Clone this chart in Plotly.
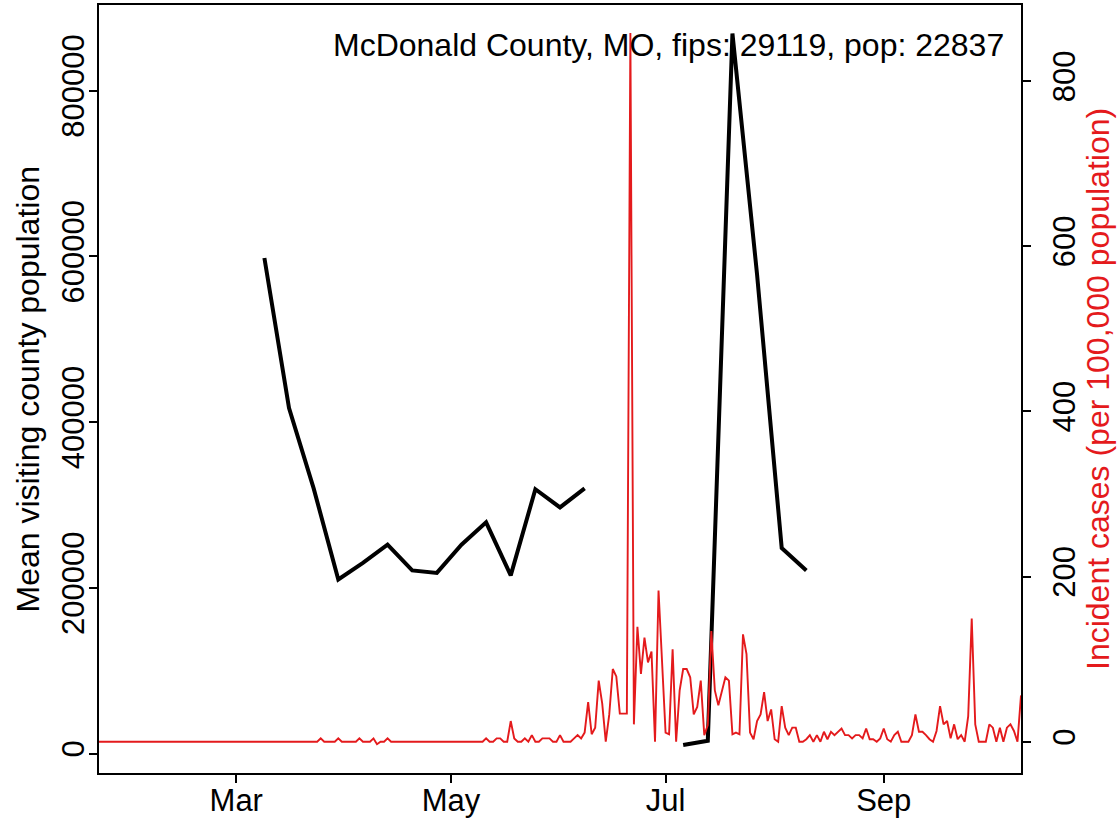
import plotly.graph_objects as go
import pandas as pd

# ---------------- data ----------------
# Daily incident cases per 100,000 (red, right axis), 2020-01-22 .. 2020-10-10
case_start = "2020-01-22"
cases_jan = [0, 0, 0, 0, 0, 0, 0, 0, 0, 0]
cases_feb = [0, 0, 0, 0, 0, 0, 0, 0, 0, 0, 0, 0, 0, 0, 0, 0, 0, 0, 0, 0,
             0, 0, 0, 0, 0, 0, 0, 0, 0]
cases_mar = [0, 0, 0, 0, 0, 0, 0, 0, 0, 0, 0, 0, 0, 0, 0, 0, 0, 0, 0, 0,
             0, 0, 0, 0, 4, 0, 0, 0, 0, 4, 0]
cases_apr = [0, 0, 0, 0, 4, 0, 0, 0, 4, -3, 0, 0, 4, 0, 0, 0, 0, 0, 0, 0,
             0, 0, 0, 0, 0, 0, 0, 0, 0, 0]
cases_may = [0, 0, 0, 0, 0, 0, 0, 0, 0, 0, 4, 0, 0, 4, 4, 0, 0, 25, 4, 0,
             0, 4, 0, 8, 0, 0, 4, 4, 4, 0, 0]
cases_jun = [8, 0, 0, 0, 4, 8, 4, 11, 48, 9, 17, 74, 46, 0, 33, 88, 79, 34, 34, 34,
             858, 21, 139, 82, 126, 96, 109, 0, 183, 97]
cases_jul = [11, 9, 112, 0, 62, 88, 88, 78, 33, 42, 74, 8, 20, 134, 62, 44, 62, 78, 74, 9,
             11, 9, 130, 106, 11, 3, 25, 33, 60, 25, 39]
cases_aug = [3, 0, 43, 17, 8, 17, 17, 0, 0, 3, 8, 0, 8, 0, 12, 3, 12, 8, 12, 16,
             8, 8, 4, 8, 8, 4, 16, 3, 3, 0, 4]
cases_sep = [16, 3, 0, 8, 12, 0, 0, 0, 8, 33, 12, 12, 8, 3, 0, 13, 43, 21, 25, 4,
             21, 3, 8, 0, 31, 149, 21, 0, 0, 0]
cases_oct = [21, 17, 0, 17, 0, 17, 21, 13, 0, 56]
cases = (cases_jan + cases_feb + cases_mar + cases_apr + cases_may + cases_jun
         + cases_jul + cases_aug + cases_sep + cases_oct)
case_dates = pd.date_range(case_start, periods=len(cases), freq="D")

# Weekly mean visiting county population (black, left axis)
visit_dates = ["2020-03-09", "2020-03-16", "2020-03-23", "2020-03-30", "2020-04-06",
               "2020-04-13", "2020-04-20", "2020-04-27", "2020-05-04", "2020-05-11",
               "2020-05-18", "2020-05-25", "2020-06-01", "2020-06-08", "2020-06-15",
               "2020-06-22", "2020-06-29", "2020-07-06", "2020-07-13", "2020-07-20",
               "2020-07-27", "2020-08-03", "2020-08-10"]
visit_pop = [598000, 417000, 320000, 210000, 230000,
             252000, 221000, 218000, 252000, 279000,
             215000, 319000, 297000, 320000, None,
             None, None, 10300, 15500, 869000,
             578000, 248000, 221000]

x_tick_vals = ["2020-03-01", "2020-05-01", "2020-07-01", "2020-09-01"]
x_tick_text = ["Mar", "May", "Jul", "Sep"]
y_tick_vals = [0, 200000, 400000, 600000, 800000]
y_tick_text = ["0", "200000", "400000", "600000", "800000"]
y2_tick_vals = [0, 200, 400, 600, 800]
y2_tick_text = ["0", "200", "400", "600", "800"]

title_text = "McDonald County, MO, fips: 29119, pop: 22837"
y_title = "Mean visiting county population"
y2_title = "Incident cases (per 100,000 population)"

# ---------------- figure ----------------
RED = "#E41A1C"
FONT = "Liberation Sans, Arial, Helvetica, sans-serif"
FS = 31
FS_T = 32

fig = go.Figure()
fig.add_trace(go.Scatter(x=visit_dates, y=visit_pop, mode="lines",
                         line=dict(color="black", width=4), connectgaps=False,
                         showlegend=False, hoverinfo="skip"))
fig.add_trace(go.Scatter(x=case_dates, y=cases, mode="lines", yaxis="y2",
                         line=dict(color=RED, width=1.9),
                         showlegend=False, hoverinfo="skip"))

axis_common = dict(showgrid=False, zeroline=False, showline=True, linecolor="black",
                   linewidth=2, ticks="outside", ticklen=8, tickwidth=2,
                   tickcolor="black", automargin=False,
                   tickfont=dict(family=FONT, size=FS, color="black"))

fig.update_layout(
    width=1119, height=822,
    margin=dict(l=99, r=98, t=5, b=49, pad=0),
    paper_bgcolor="white", plot_bgcolor="white",
    font=dict(family=FONT, size=FS, color="black"),
    xaxis=dict(range=["2020-01-22", "2020-10-10"], tickmode="array",
               tickvals=x_tick_vals, ticktext=x_tick_text, mirror=True,
               ticklabelstandoff=-9, **axis_common),
    yaxis=dict(range=[-23500, 903400], tickmode="array", tickvals=y_tick_vals,
               ticktext=y_tick_text, tickangle=-90, ticklabelstandoff=-7,
               **axis_common),
    yaxis2=dict(range=[-37.9, 891.9], tickmode="array", tickvals=y2_tick_vals,
                ticktext=y2_tick_text, tickangle=-90, overlaying="y", side="right",
                ticklabelstandoff=7, **axis_common),
    annotations=[
        dict(text=title_text, xref="paper", yref="paper", x=(1006 - 99) / 922, y=0.948,
             xanchor="right", yanchor="middle", showarrow=False,
             font=dict(family=FONT, size=FS_T, color="black")),
        dict(text=y_title, xref="paper", yref="paper", x=(27.5 - 99) / 922, y=0.5,
             xanchor="center", yanchor="middle", textangle=-90, showarrow=False,
             font=dict(family=FONT, size=FS_T, color="black")),
        dict(text=y2_title, xref="paper", yref="paper", x=(1098 - 99) / 922, y=0.5,
             xanchor="center", yanchor="middle", textangle=-90, showarrow=False,
             font=dict(family=FONT, size=FS_T, color=RED)),
    ],
)

fig.write_html("out.html", config={"displayModeBar": False})
with open("out.html", "r", encoding="utf-8") as f:
    html = f.read()
html = html.replace("<head>", "<head><style>html,body{margin:0;padding:0;}</style>", 1)
with open("out.html", "w", encoding="utf-8") as f:
    f.write(html)
